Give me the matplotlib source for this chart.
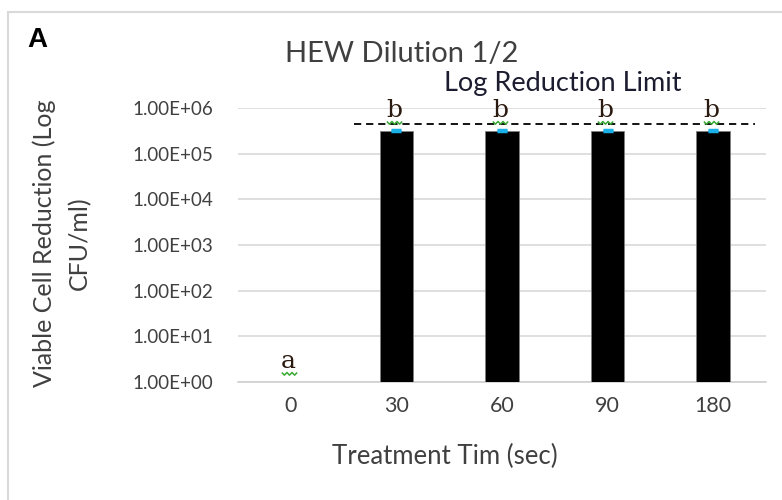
import numpy as np
import matplotlib.pyplot as plt
from matplotlib.patches import Rectangle
from matplotlib.path import Path

# Behandlungszeiten und Reduktion (log CFU/ml)
zeiten = ["0", "30", "60", "90", "180"]
reduktion = [1.0, 3.2e5, 3.2e5, 3.2e5, 3.2e5]
fehler_oben = [0.0, 1.5e4, 1.5e4, 1.5e4, 1.5e4]
buchstaben = ["a", "b", "b", "b", "b"]
grenze = 4.5e5
y_ticks = [1e0, 1e1, 1e2, 1e3, 1e4, 1e5, 1e6]

plt.rcParams['font.family'] = ['Lato', 'DejaVu Sans']

fig = plt.figure(figsize=(7.82, 5.0), dpi=100)
ax = fig.add_axes([238 / 782, 1 - 382 / 500, 528 / 782, 274 / 500])

# Rahmen um das Diagramm
fig.patches.append(Rectangle((8 / 782, -0.1), 1.1, 0.1 + 488 / 500,
                             transform=fig.transFigure, fill=False,
                             edgecolor='#d9d9d9', linewidth=1.5))

x = np.arange(len(zeiten))
ax.set_yscale('log')
ax.set_ylim(1, 1e6)
ax.set_xlim(-0.5, 4.5)

ax.bar(x, reduktion, width=0.32, color='black', edgecolor='#7f7f7f',
       linewidth=0.6, zorder=3)
# kleine Fehlerbalken oben auf den Saeulen
ax.errorbar(x[1:], reduktion[1:],
            yerr=[np.zeros(4), fehler_oben[1:]], fmt='none',
            ecolor='#1ab0e8', elinewidth=1, capsize=3.6, capthick=2.5,
            zorder=4)

# Grenze der Log-Reduktion
ax.hlines(grenze, 0.6, 4.4, color='black', linestyles=(0, (4, 2.7)),
          linewidth=1.3, zorder=5)
ax.text(2.58, 2.3e6, 'Log Reduction Limit', ha='center', va='baseline',
        fontsize=19.5, color='#1c1c30', clip_on=False)

# Signifikanzbuchstaben mit Wellenlinie darunter
welle = Path([(-1, 0), (-0.67, -0.35), (-0.33, 0), (0, -0.35),
              (0.33, 0), (0.67, -0.35), (1, 0)])
for xi, yi, b in zip(x, reduktion, buchstaben):
    ax.text(xi - 0.02, yi * 2.0, b, ha='center', va='baseline', fontsize=18,
            family='DejaVu Serif', color='#2a1a10', zorder=6, clip_on=False)
    ax.plot(xi - 0.02, yi * 1.65, marker=welle, markersize=11,
            fillstyle='none', markeredgecolor='#3aaa35', markeredgewidth=1.1,
            linestyle='none', zorder=6, clip_on=False)

ax.set_yticks(y_ticks)
ax.set_yticklabels(['%.2E' % v for v in y_ticks])
ax.yaxis.set_minor_locator(plt.NullLocator())
ax.set_xticks(x)
ax.set_xticklabels(zeiten)
ax.tick_params(axis='both', length=0, colors='#404040')
ax.tick_params(axis='y', pad=18, labelsize=13.5)
ax.tick_params(axis='x', pad=10, labelsize=15.5)
ax.grid(axis='y', color='#d9d9d9', linewidth=1.2, zorder=0)
for s in ['top', 'right', 'left']:
    ax.spines[s].set_visible(False)
ax.spines['bottom'].set_color('#d0d0d0')
ax.spines['bottom'].set_linewidth(1.2)

fig.text(445 / 782, 1 - 456 / 500, 'Treatment Tim (sec)', ha='center',
         va='center', fontsize=18.5, color='#404040')
fig.text(62 / 782, 1 - 243 / 500, 'Viable Cell Reduction (Log\nCFU/ml)',
         ha='center', va='center', rotation=90, fontsize=18,
         color='#404040', linespacing=1.6, multialignment='center')

fig.text(402 / 782, 1 - 54 / 500, 'HEW Dilution 1/2', ha='center',
         va='center', fontsize=21, color='#404040')
fig.text(27 / 782, 1 - 40 / 500, 'A', ha='left', va='center', fontsize=20,
         fontweight='bold', family='Liberation Sans')

fig.savefig('out.png', dpi=100)
